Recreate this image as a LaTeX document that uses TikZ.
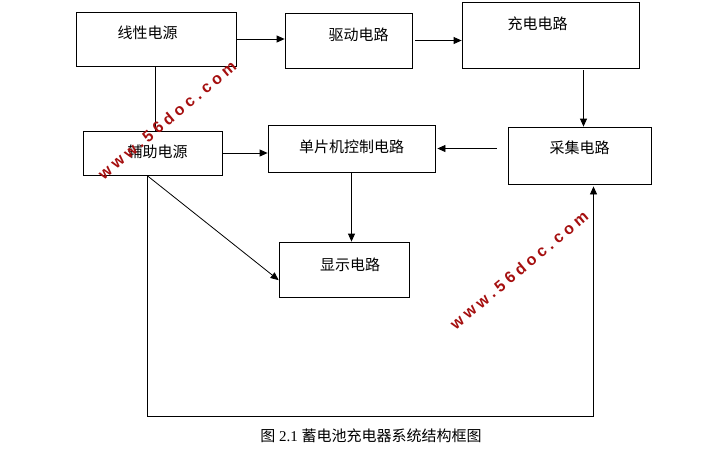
\documentclass[tikz,border=0pt]{standalone}
\usepackage{fontspec}
\setmainfont{Liberation Serif}
\newfontfamily\cjk{Noto Sans CJK SC}
\newfontfamily\wmfont{Liberation Sans}[LetterSpace=26]
\usepackage{tikz}
\usetikzlibrary{arrows.meta,positioning,calc}
\definecolor{wmred}{HTML}{A50F0F}
\tikzset{
  block/.style={draw, line width=0.8pt, align=center, inner sep=0pt, text height=12pt, font=\cjk\fontsize{15}{17}\selectfont},
  arrow/.style={-{Triangle[length=8pt,width=7pt]}, line width=0.8pt},
  wire/.style={line width=0.8pt},
  mark56/.style={text=wmred, font=\wmfont\bfseries\fontsize{16}{18}\selectfont, rotate=40}
}
\begin{document}
\begin{tikzpicture}[x=1pt,y=-1pt]
  \useasboundingbox (0,0) rectangle (719,451);

  \node[block, minimum width=160pt, minimum height=54pt, text depth=14pt] (xian) at (156,39) {线性电源\hspace*{17pt}};
  \node[block, minimum width=127pt, minimum height=55pt, text depth=13pt] (qudong) at (348.5,40.5) {\hspace*{20pt}驱动电路};
  \node[block, minimum width=177pt, minimum height=66pt, text depth=24pt] (chong) at (550.5,35) {充电电路\hspace*{26pt}};
  \node[block, minimum width=143pt, minimum height=57pt, text depth=17pt] (caiji) at (579.5,155.5) {采集电路};
  \node[block, minimum width=167pt, minimum height=47pt, text depth=5pt] (danpian) at (351.5,148.5) {单片机控制电路};
  \node[block, minimum width=139pt, minimum height=44pt, text depth=3pt] (fuzhu) at (152.5,153) {\hspace*{10pt}辅助电源};
  \node[block, minimum width=130pt, minimum height=55pt, text depth=11pt] (xianshi) at (344,269.5) {\hspace*{12pt}显示电路};

  \node[font=\fontsize{15}{17}\selectfont] (caption) at (371,436) {{\cjk 图} 2.1 {\cjk 蓄电池充电器系统结构框图}};

  \coordinate (tap) at ($(fuzhu.south west)!0.46!(fuzhu.south east)$);
  \coordinate (floor) at (0,416);
  \coordinate (bend) at ($(caiji.south)+(14,2)$);

  \draw[arrow] (xian.east) -- (xian.east -| qudong.west);
  \draw[arrow, shorten <=3pt] (qudong.east) -- (qudong.east -| chong.west);
  \draw[arrow] ($(chong.south)+(33,2)$) -- ($(caiji.north)+(4,0)$);
  \draw[arrow, shorten <=11pt, shorten >=2pt] (caiji.west |- danpian.east) -- (danpian.east);
  \draw[wire] (fuzhu.north -| 155,0) -- (xian.south -| 155,0);
  \draw[arrow] (fuzhu.east) -- (fuzhu.east -| danpian.west);
  \draw[arrow] (danpian.south) -- (danpian.south |- xianshi.north);
  \draw[arrow] (tap) -- ($(xianshi.north west)!0.69!(xianshi.south west)$);
  \draw[arrow] (tap) -- (tap |- floor) -| (bend);

  % watermarks
  \node[mark56] (mark1) at (167,120) {www.56doc.com};
  \node[mark56] (mark2) at (519,270) {www.56doc.com};
\end{tikzpicture}
\end{document}
